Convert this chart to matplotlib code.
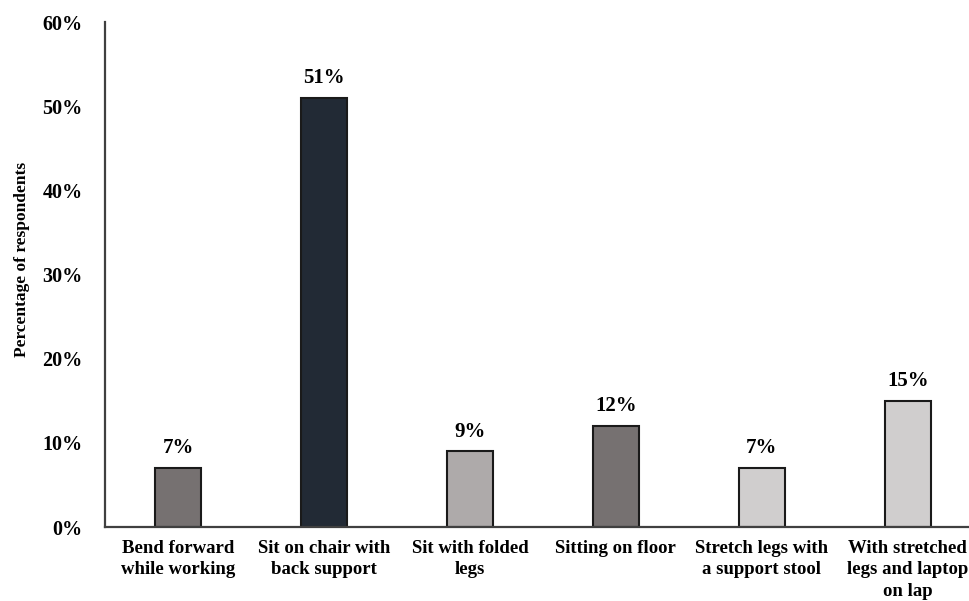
import matplotlib
matplotlib.use("Agg")
import matplotlib.pyplot as plt
from matplotlib.ticker import FuncFormatter

categories = [
    "Bend forward\nwhile working",
    "Sit on chair with\nback support",
    "Sit with folded\nlegs",
    "Sitting on floor",
    "Stretch legs with\na support stool",
    "With stretched\nlegs and laptop\non lap",
]
values = [7, 51, 9, 12, 7, 15]
colors = ["#767171", "#222A35", "#AEAAAA", "#767171", "#D0CECE", "#D0CECE"]
yticks = [0, 10, 20, 30, 40, 50, 60]

plt.rcParams["font.family"] = ["Liberation Serif", "DejaVu Serif"]
plt.rcParams["font.weight"] = "bold"

fig = plt.figure(figsize=(9.70, 6.01), dpi=100)
ax = fig.add_axes([0.1082, 0.1231, 0.903, 0.840])

x = list(range(len(categories)))
bars = ax.bar(x, values, width=0.32, color=colors, edgecolor="#1a1a1a", linewidth=1.5)

for xi, v in zip(x, values):
    ax.annotate(f"{v}%", (xi, v), xytext=(0, 7), textcoords="offset points",
                ha="center", va="bottom", fontsize=15, fontweight="bold")

ax.set_xlim(-0.5, len(categories) - 0.5)
ax.set_ylim(0, 60)
ax.set_yticks(yticks)
ax.yaxis.set_major_formatter(FuncFormatter(lambda v, p: f"{v:.0f}%"))
ax.set_xticks(x)
ax.set_xticklabels(categories, fontsize=13.5, fontweight="bold", linespacing=1.35)
for lab in ax.get_yticklabels():
    lab.set_fontsize(14.5)
    lab.set_fontweight("bold")

ax.tick_params(axis="y", length=0, pad=16)
ax.tick_params(axis="x", length=0, pad=9)

for side in ["top", "right"]:
    ax.spines[side].set_visible(False)
for side in ["left", "bottom"]:
    ax.spines[side].set_color("#404040")
    ax.spines[side].set_linewidth(1.6)

ax.set_ylabel("Percentage of respondents", fontsize=12.5, fontweight="bold")
ax.yaxis.set_label_coords(-0.086, 0.53)

fig.savefig("out.png", dpi=100)
